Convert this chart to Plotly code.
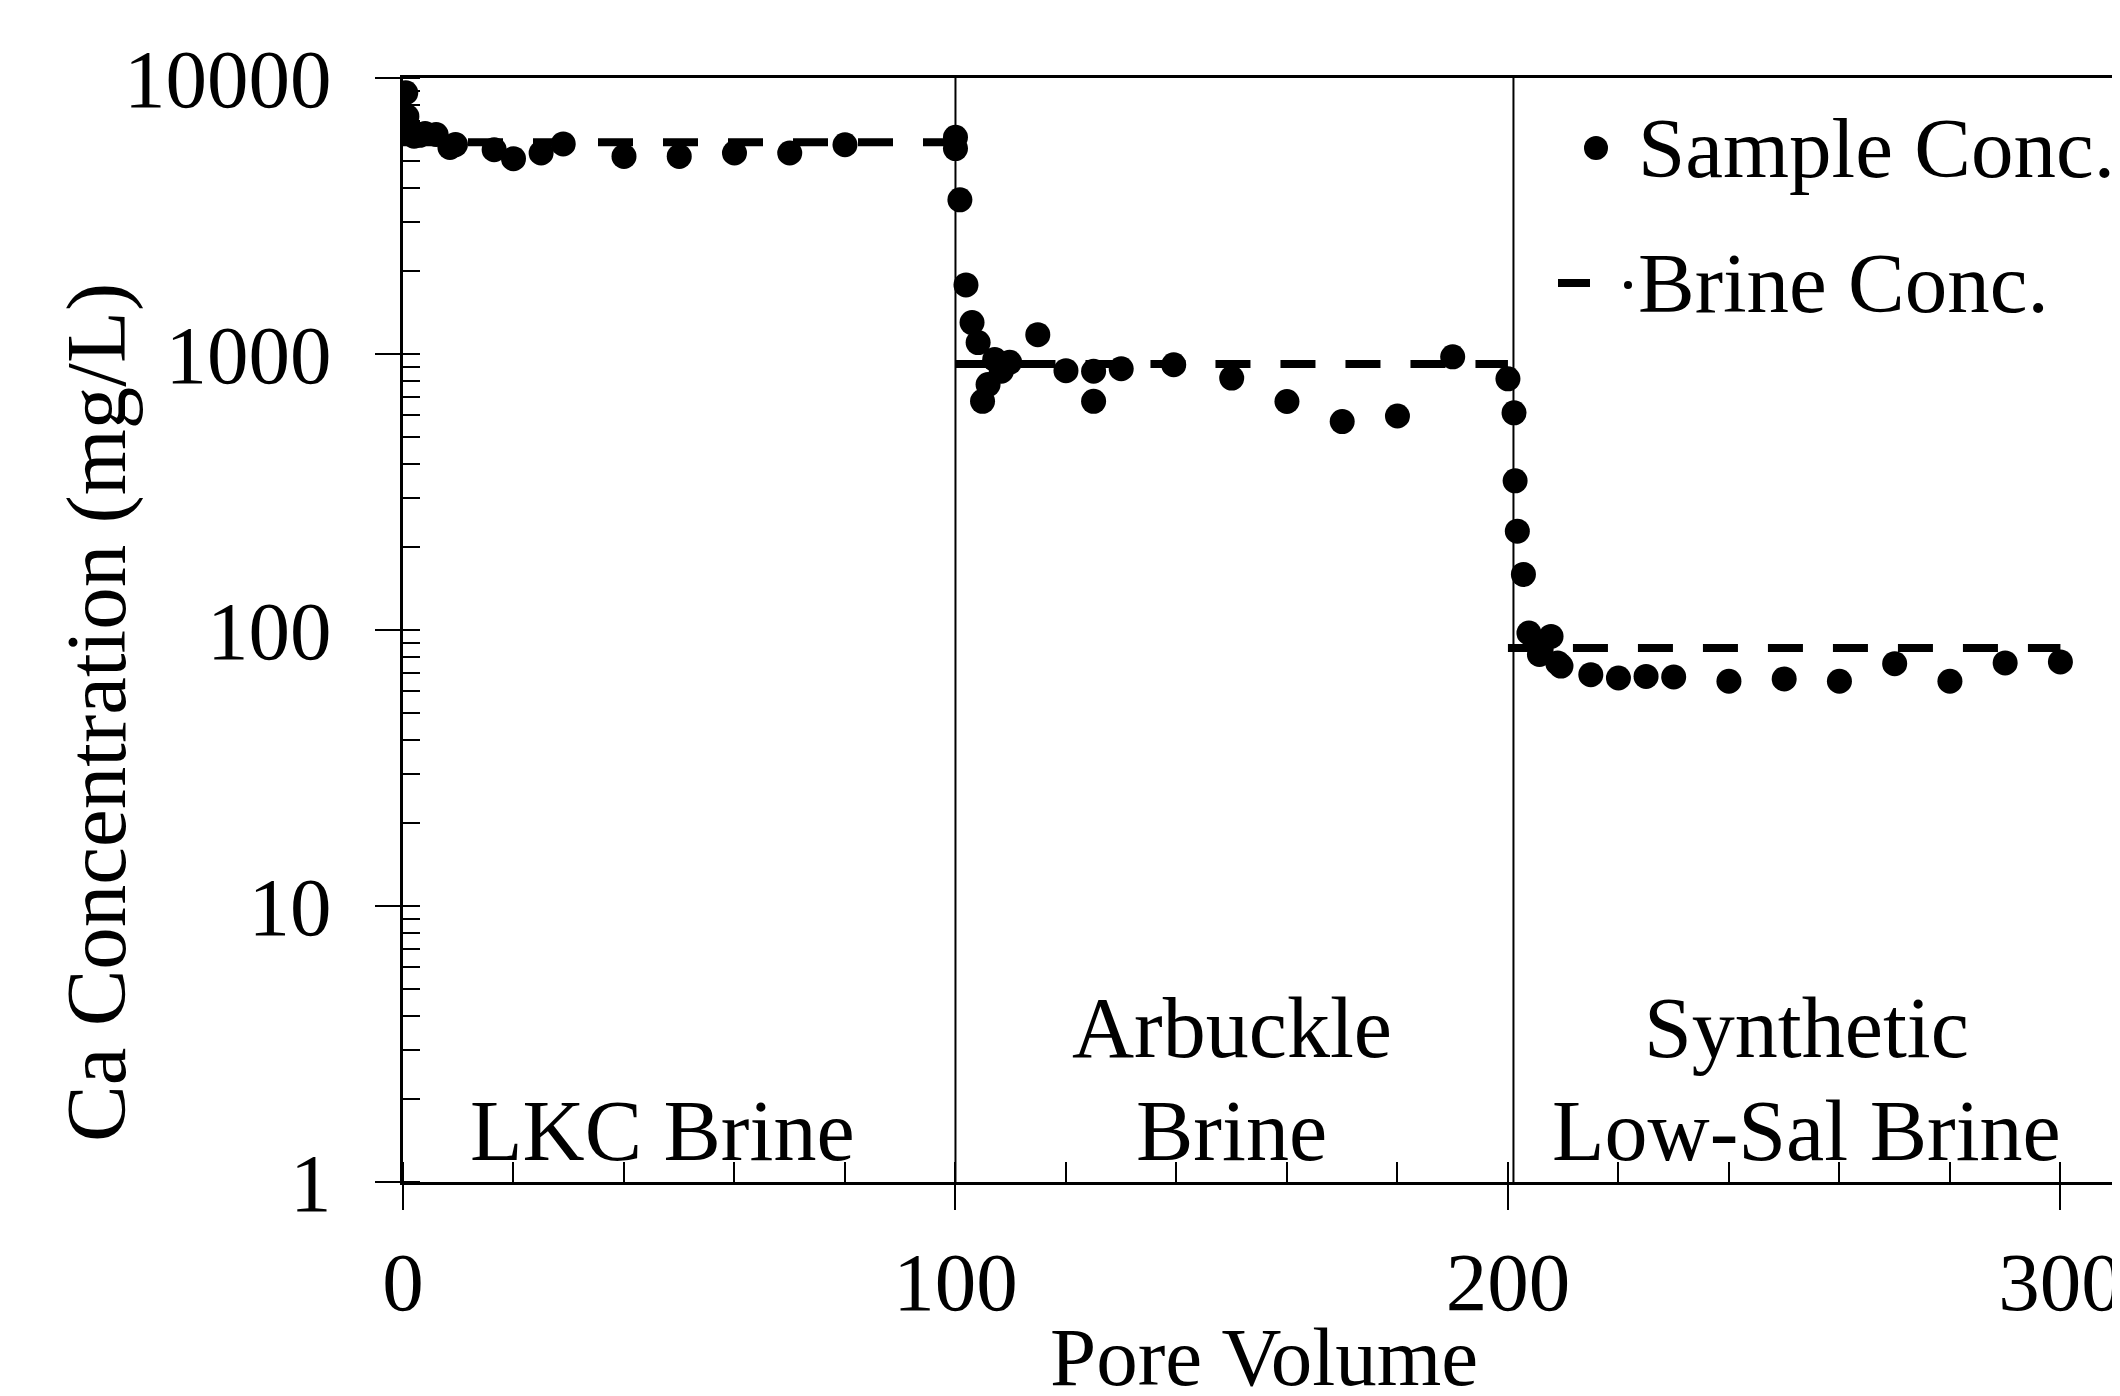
import plotly.graph_objects as go

# ---------------- data ----------------
sample_pv = [0.5, 0.7, 1.3, 2.0, 3.0, 4.0, 6.0, 8.5, 9.5, 16.5, 20.0, 25.0, 29.0,
             40.0, 50.0, 60.0, 70.0, 80.0, 100.0, 100.0,
             100.8, 101.9, 103.0, 104.1, 104.9, 105.9, 107.1, 108.3, 109.8,
             114.9, 120.0, 125.0, 125.0, 130.0, 139.5, 150.0, 160.0, 170.0,
             180.0, 190.0, 200.0,
             201.1, 201.3, 201.7, 202.8, 203.8, 205.7, 206.0, 207.8, 209.0,
             209.6, 215.0, 220.0, 225.0, 230.0, 240.0, 250.0, 260.0, 270.0,
             280.0, 290.0, 300.0]
sample_ca = [8840, 7260, 6500, 6150, 6200, 6300, 6240, 5600, 5740, 5500, 5100, 5350, 5770,
             5200, 5200, 5350, 5350, 5730, 6100, 5550,
             3620, 1780, 1300, 1100, 674, 775, 955, 866, 933,
             1175, 870, 866, 674, 884, 914, 818, 673, 569,
             596, 977, 813,
             612, 347, 228, 159, 97.5, 81.5, 85, 94.8, 76,
             74, 68.9, 67, 67.9, 67.6, 65.2, 66.5, 65.2, 75.5,
             65.2, 76, 76.6]

stage_start = [0, 100, 200]
stage_end = [100, 200, 300]
brine_ca = [5850, 920, 86]
stage_boundaries = [100, 201]

stage_label_x = [47, 150, 254]
stage_label_line1 = ["", "Arbuckle", "Synthetic"]
stage_label_line2 = ["LKC Brine", "Brine", "Low-Sal Brine"]

legend_names = ["Sample Conc.", "Brine Conc."]

x_ticks = [0, 100, 200, 300]
y_ticks = [1, 10, 100, 1000, 10000]

# ---------------- figure ----------------
FONT = "Liberation Serif, Times New Roman, serif"
PAGE_OFF = 8                      # default body margin of the html page
W, H = 2120 - PAGE_OFF, 1396 - PAGE_OFF
REF_L, REF_T, REF_R, REF_B = 403, 78, 2114, 1182   # plot area in screenshot pixels
ML, MT = REF_L - PAGE_OFF, REF_T - PAGE_OFF
MR, MB = W - (REF_R - PAGE_OFF), H - (REF_B - PAGE_OFF)
X_MAX = 309.7


def px_x(p):
    return (p - REF_L) / (REF_R - REF_L)


def px_y(p):
    return 1 - (p - REF_T) / (REF_B - REF_T)


brine_x, brine_y = [], []
for s, e, c in zip(stage_start, stage_end, brine_ca):
    brine_x += [s, e, None]
    brine_y += [c, c, None]

fig = go.Figure()
fig.add_trace(go.Scatter(
    x=sample_pv, y=sample_ca, mode="markers", name=legend_names[0],
    marker=dict(color="black", size=25, line=dict(width=0)), showlegend=False))
fig.add_trace(go.Scatter(
    x=brine_x, y=brine_y, mode="lines", name=legend_names[1],
    line=dict(color="black", width=8, dash="35px,30px"),
    connectgaps=False, showlegend=False))

shapes = []
for b in stage_boundaries:
    shapes.append(dict(type="line", xref="x", yref="paper", x0=b, x1=b, y0=0, y1=1,
                       line=dict(color="black", width=2)))

# hand-drawn legend symbols (pixel-sized, anchored in paper coords)
row_y = [148, 283]
shapes.append(dict(type="circle", xref="paper", yref="paper",
                   xsizemode="pixel", ysizemode="pixel",
                   xanchor=px_x(1596), yanchor=px_y(row_y[0]),
                   x0=-12, x1=12, y0=-12, y1=12,
                   fillcolor="black", line=dict(width=0)))
shapes.append(dict(type="line", xref="paper", yref="paper",
                   x0=px_x(1558), x1=px_x(1590), y0=px_y(row_y[1]), y1=px_y(row_y[1]),
                   line=dict(color="black", width=8)))
shapes.append(dict(type="circle", xref="paper", yref="paper",
                   xsizemode="pixel", ysizemode="pixel",
                   xanchor=px_x(1628), yanchor=px_y(row_y[1] + 2),
                   x0=-4, x1=4, y0=-4, y1=4,
                   fillcolor="black", line=dict(width=0)))

annotations = []
for x, l1, l2 in zip(stage_label_x, stage_label_line1, stage_label_line2):
    if l1:
        annotations.append(dict(x=x, y=px_y(1028), xref="x", yref="paper", text=l1,
                                showarrow=False, yanchor="middle", xanchor="center",
                                font=dict(family=FONT, size=86, color="black")))
    annotations.append(dict(x=x, y=px_y(1131), xref="x", yref="paper", text=l2,
                            showarrow=False, yanchor="middle", xanchor="center",
                            font=dict(family=FONT, size=86, color="black")))

for name, ry in zip(legend_names, row_y):
    annotations.append(dict(x=px_x(1636), y=px_y(ry), xref="paper", yref="paper",
                            text=name, showarrow=False, xanchor="left", yanchor="middle",
                            font=dict(family=FONT, size=85, color="black")))

annotations.append(dict(x=px_x(97), y=px_y(713),
                        xref="paper", yref="paper", text="Ca Concentration (mg/L)",
                        textangle=-90, showarrow=False, xanchor="center", yanchor="middle",
                        font=dict(family=FONT, size=85, color="black")))
annotations.append(dict(x=px_x(1264), y=px_y(1357),
                        xref="paper", yref="paper", text="Pore Volume",
                        showarrow=False, xanchor="center", yanchor="middle",
                        font=dict(family=FONT, size=83, color="black")))

fig.update_layout(
    width=W, height=H,
    margin=dict(l=ML, r=MR, t=MT, b=MB, autoexpand=False),
    paper_bgcolor="white", plot_bgcolor="white",
    font=dict(family=FONT, size=82, color="black"),
    showlegend=False,
    shapes=shapes, annotations=annotations,
    xaxis=dict(range=[0, X_MAX], tickvals=x_ticks, ticks="outside", ticklen=25,
               tickwidth=2, tickcolor="black", showline=True, linecolor="black",
               linewidth=3, mirror=True, showgrid=False, zeroline=False,
               ticklabelstandoff=0, automargin=False, ticklabeloverflow="allow",
               minor=dict(dtick=20, ticks="inside", ticklen=20, tickwidth=2,
                          tickcolor="black", showgrid=False),
               tickfont=dict(family=FONT, size=83)),
    yaxis=dict(type="log", range=[0, 4], tickvals=y_ticks, ticktext=[str(v) for v in y_ticks],
               ticks="outside", ticklen=25, tickwidth=2, tickcolor="black",
               showline=True, linecolor="black", linewidth=3, mirror=True,
               showgrid=False, zeroline=False, ticklabelstandoff=27, automargin=False,
               ticklabeloverflow="allow",
               minor=dict(dtick="D1", ticks="inside", ticklen=17, tickwidth=2,
                          tickcolor="black", showgrid=False),
               tickfont=dict(family=FONT, size=83)),
    xaxis2=dict(overlaying="x", range=[0, X_MAX], tickvals=x_ticks, ticks="inside",
                ticklen=25, tickwidth=2, tickcolor="black", showticklabels=False,
                showline=False, showgrid=False, zeroline=False, side="bottom",
                anchor="y"),
    yaxis2=dict(overlaying="y", type="log", range=[0, 4], tickvals=y_ticks, ticks="inside",
                ticklen=17, tickwidth=2, tickcolor="black", showticklabels=False,
                showline=False, showgrid=False, zeroline=False, side="left",
                anchor="x"),
)

fig.write_html("out.html")
